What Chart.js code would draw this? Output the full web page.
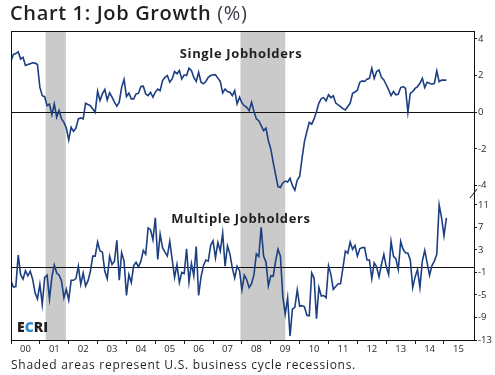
<!DOCTYPE html>
<html lang="en">
<head>
<meta charset="UTF-8">
<title>Chart 1: Job Growth (%)</title>
<script src="https://cdn.jsdelivr.net/npm/chart.js"></script>
<style>
  body { margin: 0; background: #fff; }
  #wrap { position: relative; width: 495px; height: 375px; font-family: "Open Sans", sans-serif; color: #231f20; }
  #chartCanvas { position: absolute; left: 0; top: 0; }
  .txt { position: absolute; white-space: nowrap; }
  #title { left: 10px; top: 3px; font-size: 20px; line-height: 20px; font-weight: 600; letter-spacing: 0.65px; }
  #title span { font-weight: 400; color: #3a3a4a; }
  .panel-label { font-size: 13px; line-height: 14px; font-weight: 700; letter-spacing: 0.65px; transform: translateX(-50%); }
  #ecri { left: 17px; top: 320px; font-size: 14px; line-height: 14px; font-weight: 800; }
  #ecri span { color: #2b8ad0; }
  #note { left: 11px; top: 358px; font-size: 12px; line-height: 14px; letter-spacing: 0.72px; }
</style>
</head>
<body>
<div id="wrap">
  <canvas id="chartCanvas" width="495" height="375"></canvas>
  <div class="txt" id="title">Chart 1: Job Growth <span>(%)</span></div>
  <div class="txt panel-label" style="left:241px; top:46px;">Single Jobholders</div>
  <div class="txt panel-label" style="left:241px; top:211px;">Multiple Jobholders</div>
  <div class="txt" id="ecri">E<span>C</span>RI</div>
  <div class="txt" id="note">Shaded areas represent U.S. business cycle recessions.</div>
</div>
<script>
// monthly values, Jan 2000 onwards (% y/y)
const singleJobholders = [
  2.79, 3.15, 3.2, 3.3, 2.9, 3.0, 2.55, 2.6, 2.65, 2.7, 2.68, 2.6,
  1.37, 0.9, 0.85, 0.36, 0.45, -0.13, 0.45, -0.27, 0.1, -0.36, -0.55, -0.86,
  -1.5, -0.82, -1.04, -0.86, -0.36, -0.31, -0.36, 0.49, 0.42, 0.36, 0.18, 0.0,
  1.15, 0.64, 1.0, 1.24, 0.67, 1.06, 0.82, 0.55, 0.33, 0.55, 1.37, 1.79,
  0.86, 1.04, 0.73, 0.73, 1.0, 1.04, 1.4, 1.42, 1.0, 0.91, 1.09, 0.82,
  1.1, 1.27, 1.18, 1.73, 1.9, 2.0, 1.64, 1.82, 2.22, 2.1, 2.28, 1.82,
  2.04, 2.0, 2.4, 2.28, 1.9, 1.68, 2.18, 1.64, 1.55, 1.68, 1.9, 2.0,
  2.04, 2.04, 1.86, 1.68, 1.06, 1.27, 1.13, 1.09, 0.91, 1.18, 0.46, 0.82,
  0.51, 0.36, 0.27, 0.09, 0.55, 0.04, -0.36, -0.46, -0.73, -1.0, -0.87, -1.55,
  -2.0, -2.73, -3.4, -4.05, -4.1, -3.85, -3.75, -3.8, -3.6, -4.0, -4.25, -3.7,
  -3.5, -2.5, -1.6, -1.05, -0.55, -0.65, -0.36, 0.04, 0.5, 0.75, 0.8, 0.62,
  0.95, 0.8, 0.9, 0.5, 0.4, 0.31, 0.2, 0.13, 0.31, 0.49, 1.04, 1.1,
  1.2, 1.64, 1.71, 1.68, 1.8, 1.85, 2.4, 1.85, 2.22, 2.3, 1.9, 1.76,
  1.5, 1.22, 0.91, 1.13, 0.95, 0.98, 1.35, 1.4, 1.31, 0.0, 1.04, 1.13,
  1.3, 1.4, 1.58, 1.85, 1.35, 1.64, 1.58, 1.53, 1.58, 2.25, 1.67, 1.76,
  1.75, 1.75
];
const multipleJobholders = [
  -2.5, -3.6, -3.5, 2.1, -1.4, -2.2, -0.7, -1.6, -0.8, -2.2, -4.6, -5.7,
  -3.1, -6.7, -1.9, -1.5, -5.7, -1.8, 0.3, -1.1, -1.5, -2.5, -5.5, -4.0,
  -5.9, -2.4, -2.4, -2.1, 0.1, -3.1, -1.1, -3.4, -2.5, -0.8, 1.9, 1.9,
  4.4, 2.8, 2.6, -0.8, -2.1, 1.9, 0.4, 1.0, 4.7, -2.4, 2.5, 1.0,
  -5.1, -1.4, -2.8, 0.2, 0.8, 0.0, 1.0, 2.9, 2.2, 6.9, 6.6, 4.8,
  8.7, 1.3, 5.8, 3.4, 2.6, 1.9, 4.5, 1.3, -1.9, 0.4, -2.8, -1.0,
  -1.2, 3.2, -2.7, 0.6, -1.6, 3.6, -5.1, -1.8, 0.2, 1.2, 1.0, 3.8,
  4.6, 1.6, 4.3, 2.8, 6.0, 0.1, 3.7, 2.3, -0.2, -2.0, 0.1, -0.7,
  -4.1, -1.5, -2.3, -3.7, -3.0, -1.4, 2.3, 1.8, 7.0, 1.9, 0.8, -3.4,
  -1.6, -1.7, 1.0, 3.1, 1.9, -5.3, -8.4, -5.5, -12.3, -7.5, -7.2, -4.1,
  -7.0, -6.9, -7.1, -8.6, -8.7, -1.1, -2.0, -9.2, -3.7, -5.2, -5.1, -5.5,
  0.2, -1.4, -4.0, -3.5, -3.0, -3.0, -0.2, 2.8, 2.4, 4.4, 3.1, 3.8,
  1.9, 3.2, 3.4, 3.4, 1.2, 1.2, -2.1, 0.7, 0.0, -1.8, 0.4, 2.2,
  0.0, -1.4, 4.5, 1.9, 1.4, -0.5, 4.5, 3.1, 2.5, 2.4, 1.2, -3.7,
  -1.8, -0.5, -3.7, 1.0, 2.9, 0.7, -1.5, 0.2, 1.0, 2.2, 11.0, 8.7,
  5.5, 8.7
];
const startYear = 2000;
const yearLabels = ['00','01','02','03','04','05','06','07','08','09','10','11','12','13','14','15'];
const singleTicks = [4, 2, 0, -2, -4];
const multipleTicks = [11, 7, 3, -1, -5, -9, -13];
// business cycle recessions (decimal years)
const recessions = [[2001.2, 2001.9], [2007.95, 2009.5]];

const toPoints = vals => vals.map((v, i) => ({ x: startYear + i / 12, y: v }));
const ink = '#231f20';
const lineColor = '#1c3f82';

Chart.defaults.font.family = "'Open Sans', sans-serif";
Chart.defaults.color = ink;

// shading, zero lines, frame and axis break
const panelDecor = {
  id: 'panelDecor',
  beforeDatasetsDraw(chart) {
    const { ctx, chartArea: a, scales } = chart;
    ctx.save();
    ctx.fillStyle = '#cacaca';
    recessions.forEach(([s, e]) => {
      const x0 = scales.x.getPixelForValue(s);
      const x1 = scales.x.getPixelForValue(e);
      ctx.fillRect(x0, a.top, x1 - x0, a.bottom - a.top);
    });
    ctx.strokeStyle = '#111';
    ctx.lineWidth = 1;
    ['yTop', 'yBot'].forEach(id => {
      const y = Math.round(scales[id].getPixelForValue(0)) + 0.5;
      ctx.beginPath();
      ctx.moveTo(a.left, y);
      ctx.lineTo(a.right, y);
      ctx.stroke();
    });
    ctx.restore();
  },
  afterDraw(chart) {
    const { ctx, chartArea: a, scales } = chart;
    ctx.save();
    ctx.strokeStyle = '#111';
    ctx.lineWidth = 1;
    ctx.strokeRect(a.left + 0.5, a.top + 0.5, a.right - a.left, a.bottom - a.top);
    const yb = scales.yTop.bottom;
    ctx.beginPath();
    ctx.moveTo(a.right - 4, yb + 5);
    ctx.lineTo(a.right + 3, yb - 4);
    ctx.stroke();
    ctx.restore();
  }
};

const yScale = (ticks, min, max, weight) => ({
  type: 'linear',
  position: 'right',
  stack: 'panels',
  stackWeight: weight,
  min: min,
  max: max,
  afterBuildTicks: s => { s.ticks = ticks.map(v => ({ value: v })); },
  afterFit: s => { s.width = 21; },
  grid: { drawOnChartArea: false, tickLength: 3, color: ink },
  border: { color: ink },
  ticks: { autoSkip: false, padding: 1, font: { size: 9.5 }, color: ink }
});

new Chart(document.getElementById('chartCanvas'), {
  type: 'line',
  data: {
    datasets: [
      {
        label: 'Single Jobholders',
        data: toPoints(singleJobholders),
        yAxisID: 'yTop',
        borderColor: lineColor,
        borderWidth: 1.6,
        pointRadius: 0,
        fill: false,
        tension: 0
      },
      {
        label: 'Multiple Jobholders',
        data: toPoints(multipleJobholders),
        yAxisID: 'yBot',
        borderColor: lineColor,
        borderWidth: 1.6,
        pointRadius: 0,
        fill: false,
        tension: 0
      }
    ]
  },
  options: {
    responsive: false,
    animation: false,
    layout: { padding: { top: 31, left: 11, right: 0, bottom: 0 } },
    plugins: { legend: { display: false }, tooltip: { enabled: false } },
    scales: {
      x: {
        type: 'linear',
        min: startYear,
        max: 2016.04,
        afterBuildTicks: s => { s.ticks = yearLabels.map((_, i) => ({ value: startYear + i })); },
        afterFit: s => { s.height = 35; },
        grid: { drawOnChartArea: false, tickLength: 4, color: ink },
        border: { color: ink },
        ticks: {
          autoSkip: false,
          maxRotation: 0,
          labelOffset: 14.45,
          padding: 0,
          font: { size: 9.5 },
          color: ink,
          callback: (v, i) => yearLabels[i]
        }
      },
      yTop: yScale(singleTicks, -4.4, 4.43, 162),
      yBot: yScale(multipleTicks, -13, 13.1, 147)
    }
  },
  plugins: [panelDecor]
});
</script>
</body>
</html>
